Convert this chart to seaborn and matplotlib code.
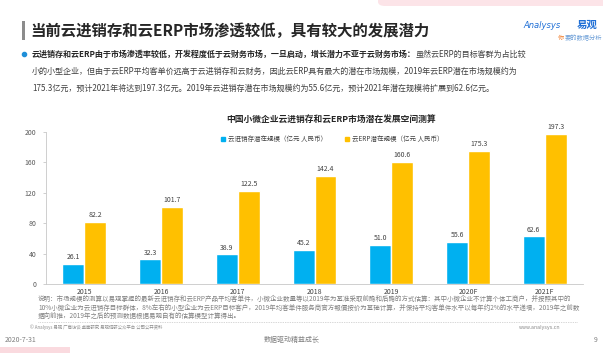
import matplotlib
matplotlib.use('Agg')
import matplotlib.pyplot as plt
import seaborn as sns
import pandas as pd
from matplotlib.patches import FancyBboxPatch, Rectangle
from matplotlib.lines import Line2D

# chart data
years = ['2015', '2016', '2017', '2018', '2019', '2020F', '2021F']
jxc_values = [26.1, 32.3, 38.9, 45.2, 51.0, 55.6, 62.6]
erp_values = [82.2, 101.7, 122.5, 142.4, 160.6, 175.3, 197.3]
series_names = ['云进销存潜在规模（亿元 人民币）', '云ERP潜在规模（亿元 人民币）']
series_colors = ['#00B0F0', '#FFC000']
y_ticks = [0, 40, 80, 120, 160, 200]

# page texts
page_title = '当前云进销存和云ERP市场渗透较低，具有较大的发展潜力'
chart_title = '中国小微企业云进销存和云ERP市场潜在发展空间测算'
bullet_bold = '云进销存和云ERP由于市场渗透率较低，开发程度低于云财务市场，一旦启动，增长潜力不亚于云财务市场：'
bullet_lines = [
    '虽然云ERP的目标客群为占比较',
    '小的小型企业，但由于云ERP平均客单价远高于云进销存和云财务，因此云ERP具有最大的潜在市场规模，2019年云ERP潜在市场规模约为',
    '175.3亿元，预计2021年将达到197.3亿元。2019年云进销存潜在市场规模约为55.6亿元，预计2021年潜在规模将扩展到62.6亿元。',
]
note_lines = [
    '说明：市场规模的测算以易观掌握的最新云进销存和云ERP产品平均客单件，小微企业数量等以2019年为基准采取前瞻和后瞻的方式估算：其中小微企业不计算个体工商户，并按照其中的',
    '10%小微企业为云进销存目标群体，8%左右的小型企业为云ERP目标客户，2019年均客单件服务商官方報價按价为基础计算，并保持平均客单件水平以每年约2%的水平递增，2019年之前数',
    '据向前推，2019年之后的预测数据根据易观自有的估算模型计算得出。',
]
copyright_text = '© Analysys 易观 厂商访谈 桌面研究 易观调研公众平台 公司公开资料'

W, H = 603, 353


def fx(x):
    return x / W


def fy(y):
    return 1 - y / H


sns.set_style('white')
plt.rcParams['font.family'] = ['Noto Sans CJK SC', 'DejaVu Sans']

fig = plt.figure(figsize=(W / 100, H / 100), dpi=100)
fig.patch.set_facecolor('white')

# decorations
fig.add_artist(FancyBboxPatch((fx(378), fy(6)), fx(603 - 378) + 0.02, 0.05,
                              boxstyle='round,pad=0,rounding_size=0.012',
                              transform=fig.transFigure, facecolor='#FCE4E8', edgecolor='none'))
fig.add_artist(Rectangle((0, 0), fx(70), 1 - fy(6), transform=fig.transFigure,
                         facecolor='#FADADF', edgecolor='none'))
fig.add_artist(Rectangle((fx(22), fy(40)), fx(2.5), fy(21) - fy(40), transform=fig.transFigure,
                         facecolor='#8C8C8C', edgecolor='none'))

fig.text(fx(30), fy(31), page_title, fontsize=11.1, fontweight='bold', color='#262626',
         ha='left', va='center')

# logo
fig.text(fx(523), fy(26), 'Analysys', fontsize=6, style='italic', color='#1F6FD6',
         ha='left', va='center', family=['DejaVu Sans'])
fig.text(fx(597), fy(25), '易观', fontsize=7.5, fontweight='bold', color='#1F6FD6',
         ha='right', va='center')
fig.text(fx(558), fy(38), '你', fontsize=4.5, color='#F07C2A', ha='left', va='center')
fig.text(fx(565), fy(38), '要的数据分析', fontsize=4.5, color='#6FA0D8', ha='left', va='center')

# bullet paragraph
fig.add_artist(Line2D([fx(24)], [fy(54)], marker='o', markersize=3, color='#1F8FD8',
                      transform=fig.transFigure))
renderer = fig.canvas.get_renderer()
t_bold = fig.text(fx(32), fy(54), bullet_bold, fontsize=5.8, fontweight='bold', color='#262626',
                  ha='left', va='center')
bb = t_bold.get_window_extent(renderer)
fig.text(bb.x1 / fig.bbox.width, fy(54), bullet_lines[0], fontsize=5.8, color='#404040',
         ha='left', va='center')
fig.text(fx(32), fy(71), bullet_lines[1], fontsize=5.8, color='#404040', ha='left', va='center')
fig.text(fx(32), fy(88), bullet_lines[2], fontsize=5.8, color='#404040', ha='left', va='center')

# chart
fig.text(fx(331), fy(120), chart_title, fontsize=6.3, fontweight='bold', color='#262626',
         ha='center', va='center')

ax = fig.add_axes([fx(46), fy(284), fx(583 - 46), fy(132) - fy(284)])
df = pd.DataFrame({
    'year': years + years,
    'value': jxc_values + erp_values,
    'series': [series_names[0]] * len(years) + [series_names[1]] * len(years),
})
sns.barplot(data=df, x='year', y='value', hue='series', palette=series_colors,
            width=0.57, gap=0, saturation=1, legend=False, ax=ax)
for container in ax.containers:
    ax.bar_label(container, fmt='%.1f', padding=2, fontsize=5, color='#404040')

ax.set_xlim(-0.5, len(years) - 0.5)
ax.set_ylim(0, 200)
ax.set_yticks(y_ticks)
ax.set_xlabel('')
ax.set_ylabel('')
ax.set_facecolor('none')
for side in ['top', 'right']:
    ax.spines[side].set_visible(False)
for side in ['left', 'bottom']:
    ax.spines[side].set_color('#C8C8C8')
    ax.spines[side].set_linewidth(0.6)
ax.set_xticks([i + 0.5 for i in range(-1, len(years))], minor=True)
ax.tick_params(axis='x', which='major', length=0, labelsize=5, labelcolor='#404040', pad=3)
ax.tick_params(axis='x', which='minor', length=2.5, width=0.6, color='#C8C8C8', direction='out')
ax.tick_params(axis='y', length=2, width=0.6, color='#C8C8C8', labelsize=5,
               labelcolor='#595959', pad=5, left=True)

handles = [Line2D([], [], marker='s', linestyle='none', markersize=3, color=c) for c in series_colors]
fig.legend(handles, series_names, loc='center', bbox_to_anchor=(fx(332), fy(139)), ncol=2,
           frameon=False, fontsize=4.7, handlelength=0.8, handletextpad=0.4,
           columnspacing=2.6, labelcolor='#404040')

# notes
for i, line in enumerate(note_lines):
    fig.text(fx(38), fy(299 + 8.5 * i), line, fontsize=4.68, color='#808080', ha='left', va='center')
fig.add_artist(Line2D([fx(38), fx(577)], [fy(322), fy(322)], linestyle=(0, (1, 1.5)),
                      linewidth=0.5, color='#B0B0B0', transform=fig.transFigure))
fig.text(fx(30), fy(327), copyright_text, fontsize=3.2, color='#8C8C8C', ha='left', va='center')
fig.text(fx(560), fy(327), 'www.analysys.cn', fontsize=3.5, color='#8C8C8C', ha='right', va='center',
         family=['DejaVu Sans'])

# footer
fig.text(fx(5), fy(340), '2020-7-31', fontsize=5, color='#7F7F7F', ha='left', va='center')
fig.text(fx(292), fy(340), '数据驱动精益成长', fontsize=5, color='#7F7F7F', ha='center', va='center')
fig.text(fx(598), fy(340), '9', fontsize=5, color='#7F7F7F', ha='right', va='center')

fig.savefig('out.png', dpi=100)
